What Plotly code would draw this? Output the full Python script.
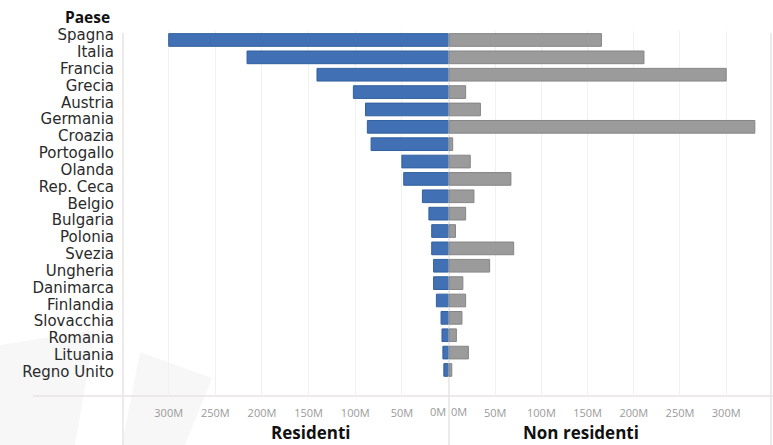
import plotly.graph_objects as go

# Nights spent (millions) by country, residents vs non-residents
paesi = ["Spagna", "Italia", "Francia", "Grecia", "Austria", "Germania", "Croazia",
         "Portogallo", "Olanda", "Rep. Ceca", "Belgio", "Bulgaria", "Polonia", "Svezia",
         "Ungheria", "Danimarca", "Finlandia", "Slovacchia", "Romania", "Lituania",
         "Regno Unito"]
residenti = [300, 216, 141, 102, 89, 87, 83, 50, 48, 28, 21, 18, 18, 16, 16, 13, 8, 7, 6, 5, None]
non_residenti = [165, 211, 300, 18, 34, 331, 4, 23, 67, 27, 18, 7, 70, 44, 15, 18, 14, 8, 21, 3, None]

tick_vals = [50, 100, 150, 200, 250, 300]
tick_text = [f"{v}M" for v in tick_vals]

W, H = 773, 445
FONT = "Open Sans"
LABEL_FONT = "DejaVu Sans"


def px_x(v):
    return v / W


def px_y(v):
    return 1 - v / H


fig = go.Figure()

fig.add_trace(go.Bar(
    y=paesi, x=residenti, orientation="h", xaxis="x", yaxis="y",
    marker=dict(color="#4170b4", line=dict(color="#31609f", width=1)),
    showlegend=False, hoverinfo="x+y",
))
fig.add_trace(go.Bar(
    y=paesi, x=non_residenti, orientation="h", xaxis="x2", yaxis="y",
    marker=dict(color="#9b9b9b", line=dict(color="#858585", width=1)),
    showlegend=False, hoverinfo="x+y",
))
# invisible trace that carries the country label column
fig.add_trace(go.Scatter(
    x=[0] * len(paesi), y=paesi, xaxis="x3", yaxis="y3", mode="markers",
    marker=dict(opacity=0), showlegend=False, hoverinfo="skip",
))

tickfont = dict(family=FONT, size=11, color="#9a9a9a")

line_col = "#e6e3e5"
shapes = [
    # faint background blocks
    dict(type="path", xref="paper", yref="paper",
         path=f"M 0,{px_y(345)} L {px_x(95)},{px_y(330)} L {px_x(75)},{px_y(445)} L 0,{px_y(445)} Z",
         fillcolor="#f7f7f7", line=dict(width=0), layer="below"),
    dict(type="path", xref="paper", yref="paper",
         path=f"M {px_x(140)},{px_y(352)} L {px_x(212)},{px_y(378)} L {px_x(185)},{px_y(445)} L {px_x(122)},{px_y(445)} Z",
         fillcolor="#f7f7f7", line=dict(width=0), layer="below"),
    # frame lines
    dict(type="line", xref="paper", yref="paper", x0=px_x(33), x1=1, y0=px_y(396), y1=px_y(396),
         line=dict(color=line_col, width=1.5), layer="below"),
    dict(type="line", xref="paper", yref="paper", x0=px_x(123), x1=px_x(123), y0=px_y(33), y1=0,
         line=dict(color=line_col, width=1.5), layer="below"),
    dict(type="line", xref="paper", yref="paper", x0=px_x(449), x1=px_x(449), y0=px_y(33), y1=0,
         line=dict(color=line_col, width=1.5), layer="below"),
    dict(type="line", xref="paper", yref="paper", x0=px_x(771), x1=px_x(771), y0=px_y(33), y1=0,
         line=dict(color=line_col, width=1.5), layer="below"),
]

annotations = [
    dict(text="<b>Paese</b>", xref="paper", yref="paper", x=px_x(112), y=px_y(17),
         xanchor="right", yanchor="middle", showarrow=False,
         font=dict(family=FONT, size=15.5, color="#111111")),
    dict(text="<b>Residenti</b>", xref="x", yref="paper", x=148, y=0,
         xanchor="center", yanchor="bottom", yshift=-1, showarrow=False,
         font=dict(family=FONT, size=17, color="#111111")),
    dict(text="<b>Non residenti</b>", xref="x2", yref="paper", x=143, y=0,
         xanchor="center", yanchor="bottom", yshift=-1, showarrow=False,
         font=dict(family=FONT, size=17, color="#111111")),
    # zero labels on either side of the divider
    dict(text="0M", xref="x", yref="paper", x=0, y=px_y(411.7), xanchor="right",
         yanchor="middle", xshift=-1, showarrow=False, font=tickfont),
    dict(text="0M", xref="x2", yref="paper", x=0, y=px_y(411.7), xanchor="left",
         yanchor="middle", xshift=0, showarrow=False, font=tickfont),
]

fig.update_layout(
    width=W, height=H,
    margin=dict(l=0, r=0, t=0, b=0, pad=0, autoexpand=False),
    paper_bgcolor="white", plot_bgcolor="rgba(0,0,0,0)",
    bargap=0.27,
    font=dict(family=FONT),
    xaxis=dict(domain=[px_x(123), px_x(448.5)], range=[349, 0], anchor="y",
               tickmode="array", tickvals=tick_vals, ticktext=tick_text, tickfont=tickfont,
               showgrid=True, gridcolor="#f1f1f1", gridwidth=1, zeroline=False,
               showline=False, ticks="", ticklabelstandoff=9, automargin=False),
    xaxis2=dict(domain=[px_x(449), px_x(771)], range=[0, 348.5], anchor="y",
                tickmode="array", tickvals=tick_vals, ticktext=tick_text, tickfont=tickfont,
                showgrid=True, gridcolor="#f1f1f1", gridwidth=1, zeroline=False,
                showline=False, ticks="", ticklabelstandoff=9, automargin=False),
    yaxis=dict(domain=[px_y(396), px_y(31.3)], type="category", categoryarray=paesi,
               categoryorder="array", range=[20.5, -0.5], anchor="x",
               showticklabels=False, showgrid=False, zeroline=False, showline=False,
               ticks="", automargin=False),
    xaxis3=dict(domain=[0, px_x(110)], visible=False, anchor="y3", range=[-1, 1],
                automargin=False),
    yaxis3=dict(domain=[px_y(380.1), px_y(26.6)], type="category", categoryarray=paesi,
                categoryorder="array", range=[20.5, -0.5], anchor="free",
                position=px_x(114), side="left", tickmode="linear", tick0=0, dtick=1,
                showgrid=False, zeroline=False, showline=False, ticks="", automargin=False,
                tickfont=dict(family=LABEL_FONT, size=15, color="#2a2a2a")),
    shapes=shapes,
    annotations=annotations,
)

fig.write_html("out.html")
